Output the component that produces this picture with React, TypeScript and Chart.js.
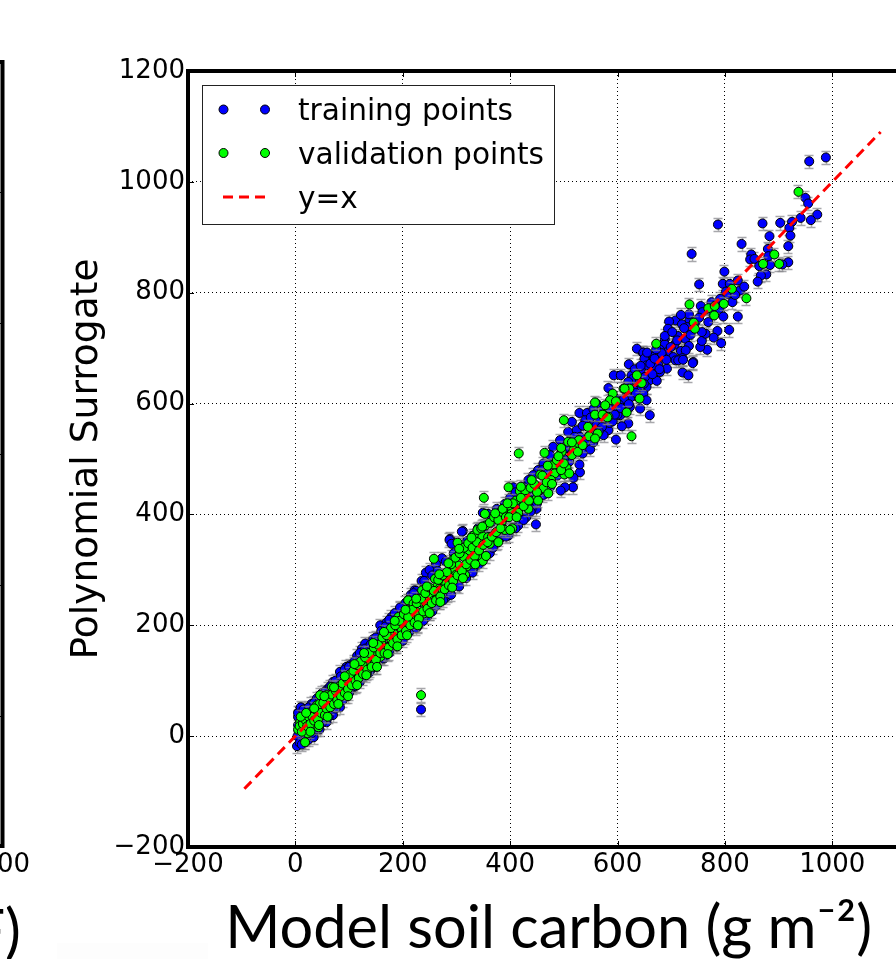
import React, { useEffect, useRef } from "react";
import { Chart, registerables } from "chart.js";

Chart.register(...registerables);

const trainingPoints: number[][] = [
  [988,1044],[957,1037],[950,971],[955,961],[972,941],[960,931],[941,935],[925,928],[903,926],[870,925],[787,923],[920,917],[922,903],[883,902],[918,884],[831,888],[880,879],[738,870],[849,869],[881,866],[847,860],[855,861],[864,848],[918,855],[907,851],[884,850],[877,833],[867,831],[861,820],[799,838],[752,815],[796,816],[824,822],[809,816],[802,802],[814,804],[828,804],[814,783],[797,757],[824,757],[808,733],[786,731],[779,719],[793,709],[767,697],[754,702],[757,713],[764,726],[757,729],[769,747],[755,776],[758,765],[734,751],[791,789],[775,783],[708,750],[696,748],[694,735],[720,743],[730,738],[712,722],[688,716],[726,717],[688,707],[706,706],[733,704],[718,695],[727,696],[693,693],[665,685],[647,692],[676,687],[704,684],[721,682],[741,675],
  [636,699],[648,692],[621,671],[593,651],[606,651],[708,678],[713,678],[722,679],[740,673],[721,656],[732,651],[692,663],[679,657],[676,669],[667,669],[650,681],[654,669],[643,661],[626,651],[660,642],[673,641],[654,630],[642,627],[629,645],[620,639],[583,628],[648,618],[636,613],[624,611],[654,606],[611,603],[660,579],[601,594],[617,588],[592,585],[605,579],[679,697],[685,684],[667,685],
  [597,535],[620,564],[608,559],[583,552],[574,543],[561,546],[549,517],[530,476],[529,490],[517,449],[502,449],[494,443],[518,466],[448,382],[515,567],[529,583],[543,583],[549,564],[561,600],[508,549],[524,552],[540,570],[567,570],[623,594],[642,591],[608,606],[493,534],[480,522],[502,519],[474,507],[462,492],[452,480],[443,471],[434,462],[406,449],[425,449],[390,419],[449,410],[359,401],[312,370],[288,356],[555,530],[535,510],[510,495],[490,480],[470,460],[455,445],[440,430],[420,415],[585,565],[575,590],[595,610],[600,580],[560,560],[545,540],[525,525],[500,500],[480,470],
  [310,369],[287,354],[291,347],[273,321],[243,295],[222,263],[301,272],[285,254],[332,302],[362,330],[375,348],[397,362],[349,403],[405,375],[415,380],[430,395],[440,410],[330,355],[350,370],[365,385],[375,410],[400,430],[420,445],[345,320],[320,310],[300,300],
  [8,30],[5,20],[6,10],[4,0],[5,35],[10,45],[13,50],[6,43],[3,-18],[8,-12],[18,-11],[25,-6],[34,-2],[45,12],[58,25],[70,38],[83,52],[95,72],[108,88],[120,98],[139,118],[150,125],[165,140],[176,158],[190,165],[204,179],[214,194],[228,198],[245,215],[255,225],[269,242],[280,250],[20,40],[30,58],[40,68],[50,78],[60,85],[70,98],[83,116],[95,125],[102,128],[115,145],[124,158],[130,167],[145,175],[158,200],[170,205],[179,215],[195,230],[205,240],[215,255],[225,262],[235,280],[250,300],[262,310],
  [5,42],[10,52],[15,48],[25,52],[35,60],[45,70],[55,80],[65,90],[75,100],[85,108],[92,120],[100,125],[110,135],[120,150],[130,158],[140,165],[150,178],[160,190],[168,198],[175,210],[185,222],[195,232],[210,245],[220,258],[240,280],[255,290],[265,298],[280,315],[295,330],[305,345],[320,352],[340,375],
  [12,-15],[20,-5],[30,5],[40,12],[50,25],[62,35],[75,50],[88,65],[100,78],[112,90],[125,105],[138,115],[150,130],[162,140],[175,150],[188,162],[200,172],[212,188],[225,195],[238,208],[250,222],[262,235],[275,245],[290,255],[305,270],[318,285],[330,295],[342,310],[355,325],[368,340],[380,355],[392,360],[410,375],[425,390],[438,405],[450,420],[462,435],[475,450],[488,470],[500,480],
  [651,648],[661,672],[669,681],[682,691],[641,638],[629,626],[618,621],[612,608],[603,598],[588,596],[579,582],[571,558],[632,662],[643,668],[655,692],[672,698],[688,722],[702,729],[711,714],[724,736],[736,724],[699,702],[691,679],[678,662],[665,653],[649,636],[634,619],[621,599],[606,592],[591,568],[745,747],[752,755],[733,761],[718,760],[776,764],[789,771],[806,798],[819,796],[836,811],
  [385,395],[395,410],[410,440],[430,440],[445,440],[460,480],[475,490],[485,495],[505,520],[515,510],[530,540],[540,530],[550,575],[565,550],[575,575],[585,590],[595,580],[555,590],[535,560],[520,540],[495,510],[470,475],
];

const validationPoints: number[][] = [
  [937,982],[892,869],[871,852],[901,852],[813,807],[840,790],[734,779],[769,772],[781,776],[798,780],[780,759],[742,746],[744,735],[672,708],
  [636,651],[645,637],[622,627],[611,627],[591,618],[641,609],[586,606],[597,604],[577,597],[558,602],[558,580],[574,580],[617,584],[583,576],
  [416,510],[500,570],[613,627],[626,541],[572,580],[581,575],[563,546],[547,541],[528,534],[508,531],[558,537],[464,511],[496,513],[521,522],[518,516],[515,507],[526,513],[482,490],[505,484],[487,498],[483,474],[456,472],[501,472],[510,474],[476,462],[397,449],[418,442],[428,443],[438,448],[454,443],[462,447],[449,428],[471,438],[430,428],[411,425],[351,430],[415,403],[434,410],[394,407],[403,403],[380,403],[353,401],[397,416],[384,386],[387,374],[404,375],[347,362],[362,359],[330,361],
  [302,349],[258,320],[332,362],[339,372],[333,348],[359,359],[390,372],[362,347],[349,316],[322,335],[294,319],[339,326],[314,323],[319,306],[303,308],[292,301],[316,291],[299,291],[287,286],[260,284],[269,279],[281,275],[248,263],[236,263],[263,269],[268,266],[210,245],[221,238],[243,248],[254,251],[257,244],[232,242],[245,238],[220,230],[269,263],
  [234,74],[18,-11],[23,5],[9,25],[15,32],[30,43],[43,16],[30,29],[40,38],[49,52],[61,59],[40,56],[55,47],[77,83],[74,62],[89,77],[102,101],[93,95],[108,98],[117,122],[133,113],[139,134],[145,152],[148,134],[158,143],[170,161],[179,173],[192,179],[183,185],[198,194],[204,212],[192,215],[223,209],[210,227],[220,239],[238,221],[226,224],[58,74],[46,74],[68,89],[85,92],[125,130],[160,168],[175,185],
  [5,12],[8,18],[12,8],[14,22],[18,30],[22,18],[25,35],[28,22],[32,35],[35,28],[38,48],[42,30],[45,58],[48,42],[52,60],[55,38],[58,50],[62,70],[65,52],[68,75],[72,58],[75,82],[78,65],[82,90],[85,72],[88,95],[92,78],[95,105],[98,85],[102,112],[105,92],[108,118],[112,100],[115,128],[118,105],[122,135],[126,112],[130,142],[134,120],[138,150],[142,125],[146,160],[150,138],[154,165],[158,150],[162,178],[166,150],[170,182],[174,160],[178,195],[182,168],[186,200],[190,175],[194,208],[198,182],[202,220],[206,190],[210,215],[214,200],[218,228],[222,205],[226,240],[230,212],[234,248],[238,225],[242,258],[246,230],[250,268],[254,240],[258,262],[262,245],[266,282],[270,252],[274,290],[278,265],[282,296],[286,272],[290,310],[294,280],[298,322],[302,290],[306,330],[310,298],[314,340],[318,310],[322,348],[326,318],[330,340],[334,325],[338,350],[342,335],[346,375],[350,345],[354,380],[358,350],[362,385],[366,360],[370,395],[374,368],[378,390],[382,375],[386,410],[392,395],[398,395],[405,420],[412,395],[420,430],[425,415],[435,425],[445,455],[450,440],[460,470],[468,458],[490,505],[495,480],[515,530],[535,525],[545,558],
  [10,35],[20,42],[28,8],[35,50],[44,20],[54,72],[60,35],[72,88],[80,58],[92,108],[98,72],[110,130],[115,92],[128,150],[132,110],[145,168],[152,125],[165,188],[172,148],[185,208],[190,162],[205,228],[208,182],[225,248],[228,200],[245,270],[250,222],[268,292],[270,242],[285,312],[292,268],[305,338],[312,285],[328,358],[335,310],[348,378],[355,325],[372,402],[378,350],[395,420],[400,372],[420,450],[440,462],[452,425],[470,488],[478,455],[495,520],[500,492],
];

const outlierTraining: number[][] = [[234,48]];
const identityLine: number[][] = [[-95,-95],[1090,1090]];
const errorHalfHeight = 12;
const axisMin = -200;
const axisMax = 1200;
const axisStep = 200;

const seriesNames = ["training points", "validation points", "y=x"];
const yTitle = "Polynomial Surrogate";
const xTitle = "Model soil carbon (g m\u207B\u00B2)\u00A0\u00A0";
const neighbourTick = "00";
const neighbourTitleEnd = "F)";
const neighbourTickYs = [192, 323, 454, 585, 716];

const tickFont = "DejaVu Sans";
const blue = "#0000ff";
const green = "#00ff00";
const toPoints = (rows: number[][]) => rows.map(([x, y]) => ({ x, y }));
const fmt = (v: number | string) => String(v).replace("-", "\u2212");

function marker(ctx: CanvasRenderingContext2D, x: number, y: number, fill: string) {
  ctx.beginPath();
  ctx.arc(x, y, 4.5, 0, Math.PI * 2);
  ctx.fillStyle = fill;
  ctx.fill();
  ctx.lineWidth = 1;
  ctx.strokeStyle = "#000";
  ctx.stroke();
}

const errorBars = {
  id: "errorBars",
  beforeDatasetDraw(chart: any, args: any) {
    const ds = chart.data.datasets[args.index];
    if (!ds.errorBars) return;
    const { ctx, scales } = chart;
    ctx.save();
    ctx.strokeStyle = "rgba(130,130,135,0.7)";
    ctx.lineWidth = 1.5;
    for (const p of ds.data) {
      const x = Math.round(scales.x.getPixelForValue(p.x));
      const hi = Math.round(scales.y.getPixelForValue(p.y + errorHalfHeight)) + 0.5;
      const lo = Math.round(scales.y.getPixelForValue(p.y - errorHalfHeight)) + 0.5;
      ctx.beginPath();
      ctx.moveTo(x - 4.5, hi); ctx.lineTo(x + 4.5, hi);
      ctx.moveTo(x - 4.5, lo); ctx.lineTo(x + 4.5, lo);
      ctx.moveTo(x + 0.5, hi); ctx.lineTo(x + 0.5, lo);
      ctx.stroke();
    }
    ctx.restore();
  },
};

const frameAndLegend = {
  id: "frameAndLegend",
  beforeDraw(chart: any) {
    const { ctx } = chart;
    ctx.save();
    ctx.fillStyle = "#fff";
    ctx.fillRect(0, 0, chart.width, chart.height);
    ctx.fillStyle = "#fdfdfd";
    ctx.fillRect(57, 943, 151, 16);
    ctx.restore();
  },
  afterDraw(chart: any) {
    const { ctx, chartArea: a, scales } = chart;
    ctx.save();
    ctx.strokeStyle = "#000";
    ctx.lineWidth = 1;
    ctx.beginPath();
    for (const t of scales.x.ticks) {
      const x = Math.round(scales.x.getPixelForValue(t.value)) + 0.5;
      ctx.moveTo(x, a.bottom); ctx.lineTo(x, a.bottom - 6);
      ctx.moveTo(x, a.top); ctx.lineTo(x, a.top + 6);
    }
    for (const t of scales.y.ticks) {
      const y = Math.round(scales.y.getPixelForValue(t.value)) + 0.5;
      ctx.moveTo(a.left, y); ctx.lineTo(a.left + 6, y);
      ctx.moveTo(a.right, y); ctx.lineTo(a.right - 6, y);
    }
    ctx.stroke();
    ctx.lineWidth = 4;
    ctx.strokeRect(a.left, a.top, a.right - a.left, a.bottom - a.top);

    ctx.fillStyle = "#fff";
    ctx.fillRect(202.5, 85.5, 352, 139);
    ctx.strokeStyle = "#222";
    ctx.lineWidth = 1;
    ctx.strokeRect(202.5, 85.5, 352, 139);
    marker(ctx, 223.5, 109.5, blue);
    marker(ctx, 265, 109.5, blue);
    marker(ctx, 223.5, 153, green);
    marker(ctx, 265, 153, green);
    ctx.strokeStyle = "#ff0000";
    ctx.lineWidth = 3;
    ctx.setLineDash([10, 6]);
    ctx.beginPath();
    ctx.moveTo(223, 197);
    ctx.lineTo(265, 197);
    ctx.stroke();
    ctx.setLineDash([]);
    ctx.fillStyle = "#000";
    ctx.font = `29.6px "${tickFont}"`;
    ctx.textBaseline = "alphabetic";
    ctx.textAlign = "left";
    ctx.fillText(seriesNames[0], 298, 120);
    ctx.fillText(seriesNames[1], 298, 164);
    ctx.fillText(seriesNames[2], 298, 208);

    ctx.strokeStyle = "#000";
    ctx.lineWidth = 4;
    ctx.beginPath();
    ctx.moveTo(-4, 62);
    ctx.lineTo(2.5, 62);
    ctx.lineTo(2.5, 846);
    ctx.lineTo(-4, 846);
    ctx.stroke();
    ctx.lineWidth = 1;
    ctx.beginPath();
    for (const y of neighbourTickYs) {
      ctx.moveTo(0, y + 0.5);
      ctx.lineTo(2, y + 0.5);
    }
    ctx.stroke();
    ctx.font = `26px "${tickFont}"`;
    ctx.textAlign = "right";
    ctx.fillText(neighbourTick, 30, 872);
    ctx.font = `59.5px "Lato"`;
    ctx.fillText(neighbourTitleEnd, 21, 952);
    ctx.restore();
  },
};

const ticks = (extra: object) => ({
  min: axisMin,
  max: axisMax,
  ticks: {
    stepSize: axisStep,
    autoSkip: false,
    maxRotation: 0,
    color: "#000",
    font: { family: tickFont, size: 26 },
    callback: (v: number | string) => fmt(v),
    ...extra,
  },
  grid: { color: "#000", lineWidth: 1, drawTicks: false, tickLength: 0 },
  border: { display: false, dash: [1, 3] },
});

export default function App() {
  const ref = useRef<HTMLCanvasElement>(null);
  useEffect(() => {
    const chart = new Chart(ref.current!, {
      type: "scatter",
      plugins: [errorBars, frameAndLegend],
      data: {
        datasets: [
          {
            label: seriesNames[0],
            data: toPoints([...trainingPoints, ...outlierTraining]),
            backgroundColor: blue,
            borderColor: "#000",
            borderWidth: 1,
            pointRadius: 4.5,
            order: 3,
            errorBars: true,
          } as any,
          {
            label: seriesNames[1],
            data: toPoints(validationPoints),
            backgroundColor: green,
            borderColor: "#000",
            borderWidth: 1,
            pointRadius: 4.5,
            order: 2,
            errorBars: true,
          } as any,
          {
            type: "line",
            label: seriesNames[2],
            data: toPoints(identityLine),
            borderColor: "#ff0000",
            borderWidth: 3,
            borderDash: [10, 6],
            pointRadius: 0,
            showLine: true,
            fill: false,
            order: 1,
          } as any,
        ],
      },
      options: {
        animation: false,
        responsive: false,
        devicePixelRatio: 1,
        layout: { padding: { left: 0, top: 71, right: 60.3, bottom: 0 } },
        plugins: { legend: { display: false }, tooltip: { enabled: false } },
        scales: {
          x: {
            type: "linear",
            ...ticks({ padding: 3 }),
            title: {
              display: true,
              text: xTitle,
              color: "#000",
              font: { family: "Lato", size: 59.5, lineHeight: 1 },
              padding: { top: -1, bottom: 0 },
            },
            afterFit: (s: any) => { s.height = 112; },
          } as any,
          y: {
            type: "linear",
            ...ticks({ padding: 3 }),
            title: {
              display: true,
              text: yTitle,
              color: "#000",
              font: { family: tickFont, size: 37.6, lineHeight: 1 },
              padding: { top: 68, bottom: 0 },
            },
            afterFit: (s: any) => { s.width = 188; },
          } as any,
        },
      },
    });
    return () => chart.destroy();
  }, []);
  return (
    <div style={{ position: "fixed", left: 0, top: 0, width: 896, height: 959, overflow: "hidden", background: "#fff" }}>
      <canvas ref={ref} width={1000} height={959} style={{ display: "block" }} />
    </div>
  );
}
